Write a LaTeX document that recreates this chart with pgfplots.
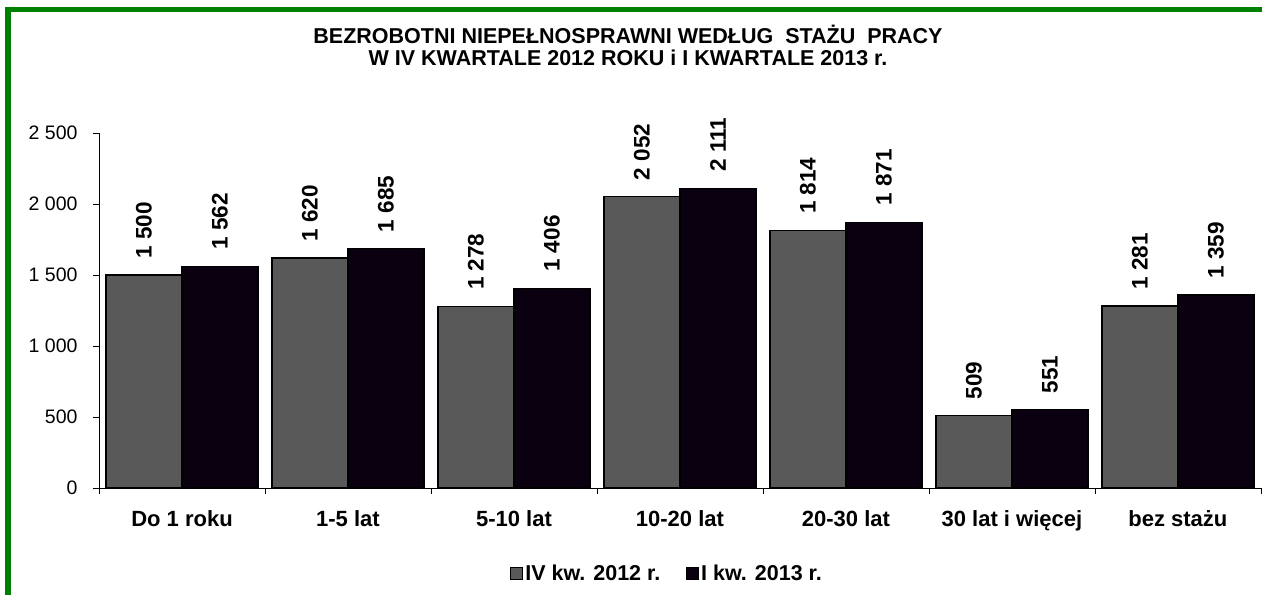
\documentclass[border=0pt]{standalone}
\usepackage{pgfplots}
\pgfplotsset{compat=1.18}
\usepackage{fontspec}
\setmainfont{Liberation Sans}
\definecolor{ramka}{RGB}{0,128,0}
\definecolor{szary}{RGB}{89,89,89}
\definecolor{czarny}{RGB}{10,0,15}
\pgfkeys{/pgf/number format/.cd, assume math mode=true, 1000 sep={\ }}
\pgfplotsset{sq legend/.style={legend image code/.code={\draw[##1, line width=0.8pt] (0pt,-6pt) rectangle (12pt,6pt);}}}
\begin{document}
\begin{tikzpicture}[x=1pt,y=1pt]
\useasboundingbox (0,0) rectangle (1262,595);
\draw[ramka, line width=5.5pt] (8,0) -- (8,585.5) -- (1262,585.5);
\node[font=\fontsize{21.5}{22}\selectfont\bfseries, align=center] at (628,550)
  {BEZROBOTNI NIEPEŁNOSPRAWNI WEDŁUG\ \ STAŻU\ \ PRACY\\W IV KWARTALE 2012 ROKU i I KWARTALE 2013 r.};
\begin{axis}[
    at={(99pt,107pt)}, anchor=south west,
    scale only axis, width=1162pt, height=355pt,
    ybar=0pt, bar width=76pt,
    xmin=-0.5, xmax=6.5, ymin=0, ymax=2500,
    ytick={0,500,...,2500},
    xtick={0,...,6},
    xticklabels={Do 1 roku,1-5 lat,5-10 lat,10-20 lat,20-30 lat,30 lat i więcej,bez stażu},
    minor xtick={-0.5,0.5,...,6.5},
    major x tick style={draw=none},
    axis x line*=bottom, axis y line*=left,
    axis line style={line width=0.9pt},
    tick align=outside, major tick length=6pt, minor tick length=6pt,
    tick style={black, line width=0.8pt},
    x tick label style={font=\fontsize{22}{24}\selectfont\bfseries, yshift=-13pt},
    y tick label style={font=\fontsize{19.5}{22}\selectfont, xshift=-12pt},
    clip=false,
    nodes near coords,
    every node near coord/.append style={font=\fontsize{22.5}{24}\selectfont\bfseries,
        rotate=90, anchor=west, inner xsep=16pt, inner ysep=0pt, black},
    legend style={at={(0.489,-0.24)}, anchor=center, draw=none, fill=none,
        legend columns=2, font=\fontsize{21.5}{22}\selectfont\bfseries,
        /tikz/every even column/.append style={column sep=24pt}},
]
% IV kw. 2012
\addplot[fill=szary, draw=black, line width=1.2pt, sq legend] coordinates {
  (0,1500) (1,1620) (2,1278) (3,2052) (4,1814) (5,509) (6,1281)
};
% I kw. 2013
\addplot[fill=czarny, draw=black, line width=1.2pt, sq legend] coordinates {
  (0,1562) (1,1685) (2,1406) (3,2111) (4,1871) (5,551) (6,1359)
};
\legend{IV kw. 2012 r.,I kw. 2013 r.}
\end{axis}
\end{tikzpicture}
\end{document}
